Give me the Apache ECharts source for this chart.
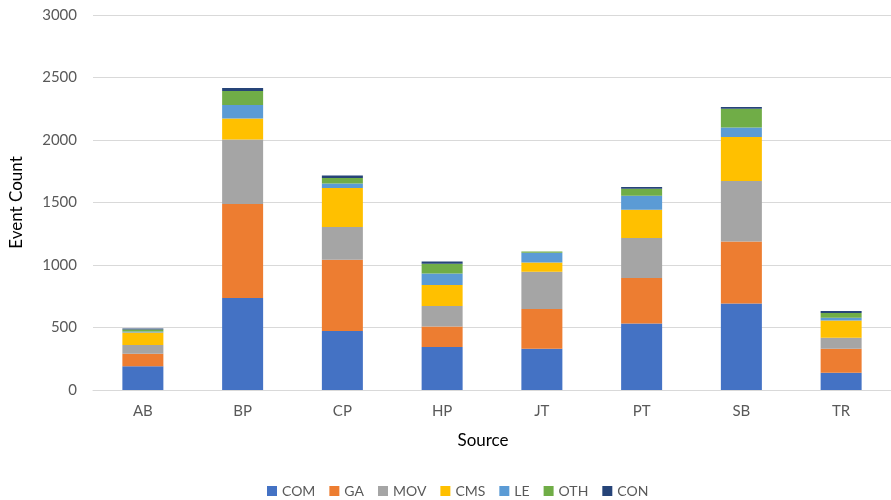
<!DOCTYPE html>
<html>
<head>
<meta charset="utf-8">
<script src="https://cdn.jsdelivr.net/npm/echarts@6/dist/echarts.min.js"></script>
<style>
  html, body { margin: 0; padding: 0; background: #fff; }
  #chart { width: 891px; height: 500px; }
</style>
</head>
<body>
<div id="chart"></div>
<script>
// categories along the x axis
const sources = ['AB', 'BP', 'CP', 'HP', 'JT', 'PT', 'SB', 'TR'];

// stacked series values
const com = [190, 736, 472, 344, 331, 533, 693, 139];
const ga  = [100, 752, 571, 165, 317, 363, 496, 192];
const mov = [70, 517, 261, 163, 299, 320, 483, 88];
const cms = [100, 168, 312, 168, 74, 227, 352, 138];
const le  = [8, 107, 37, 93, 78, 112, 77, 22];
const oth = [17, 112, 43, 78, 10, 56, 150, 37];
const con = [8, 24, 21, 18, 0, 13, 13, 16];

const seriesNames = ['COM', 'GA', 'MOV', 'CMS', 'LE', 'OTH', 'CON'];
const seriesData = [com, ga, mov, cms, le, oth, con];
const colors = ['#4472C4', '#ED7D31', '#A5A5A5', '#FFC000', '#5B9BD5', '#70AD47', '#264478'];

const font = 'Lato, "Open Sans", sans-serif';

const chart = echarts.init(document.getElementById('chart'));
chart.setOption({
  animation: false,
  color: colors,
  textStyle: { fontFamily: font },
  grid: { left: 86, right: -11, top: 15, bottom: 110, containLabel: false },
  legend: {
    bottom: -3,
    left: 262,
    itemWidth: 10,
    itemHeight: 10,
    itemGap: 14,
    icon: 'rect',
    textStyle: { color: '#595959', fontSize: 14, fontFamily: font }
  },
  xAxis: {
    type: 'category',
    data: sources,
    name: 'Source',
    nameLocation: 'middle',
    nameGap: 42,
    nameTextStyle: { color: '#000', fontSize: 17, fontFamily: font, padding: [0, 18, 0, 0] },
    axisLine: { lineStyle: { color: '#d9d9d9' } },
    axisTick: { show: false },
    axisLabel: { color: '#595959', fontSize: 15, margin: 14 }
  },
  yAxis: {
    type: 'value',
    min: 0,
    max: 3000,
    interval: 500,
    name: 'Event Count',
    nameLocation: 'middle',
    nameGap: 68,
    nameTextStyle: { color: '#000', fontSize: 17, fontFamily: font },
    axisLabel: { color: '#595959', fontSize: 15, margin: 16, formatter: v => String(v) },
    splitLine: { lineStyle: { color: '#d9d9d9' } }
  },
  series: seriesNames.map((name, i) => ({
    name: name,
    type: 'bar',
    stack: 'total',
    barWidth: 41,
    data: seriesData[i]
  }))
});
</script>
</body>
</html>
